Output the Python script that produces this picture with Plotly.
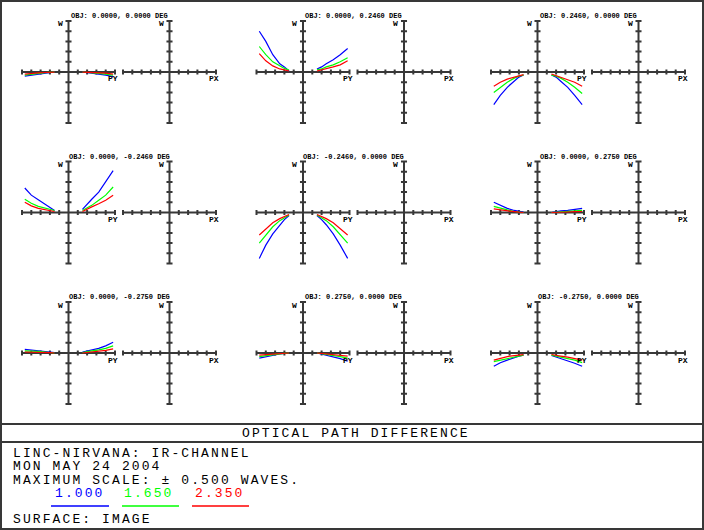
import plotly.graph_objects as go

# ---------------- data ----------------
fields = [
    "OBJ: 0.0000, 0.0000 DEG", "OBJ: 0.0000, 0.2460 DEG", "OBJ: 0.2460, 0.0000 DEG",
    "OBJ: 0.0000, -0.2460 DEG", "OBJ: -0.2460, 0.0000 DEG", "OBJ: 0.0000, 0.2750 DEG",
    "OBJ: 0.0000, -0.2750 DEG", "OBJ: 0.2750, 0.0000 DEG", "OBJ: -0.2750, 0.0000 DEG",
]
wavelengths = ["1.000", "1.650", "2.350"]
pupil_ticks = [-1.0, -0.8, -0.6, -0.4, -0.2, 0.0, 0.2, 0.4, 0.6, 0.8, 1.0]
wave_ticks = [-0.5, -0.4, -0.3, -0.2, -0.1, 0.0, 0.1, 0.2, 0.3, 0.4, 0.5]
py_left = [-0.94, -0.8, -0.65, -0.5, -0.4, -0.3]
py_right = [0.3, 0.4, 0.5, 0.65, 0.8, 0.96]

# OPD (waves) along PY, one row per field
opd_1000_left = [
    [-0.04, -0.03, -0.02, -0.01, -0.005, 0.0],
    [0.40, 0.30, 0.17, 0.08, 0.05, 0.01],
    [-0.32, -0.23, -0.15, -0.09, -0.05, -0.03],
    [0.24, 0.17, 0.125, 0.08, 0.05, 0.02],
    [-0.45, -0.32, -0.21, -0.12, -0.07, -0.03],
    [0.10, 0.07, 0.04, 0.02, 0.01, 0.005],
    [0.035, 0.03, 0.025, 0.02, 0.01, 0.005],
    [-0.05, -0.035, -0.02, -0.01, -0.005, 0.0],
    [-0.13, -0.095, -0.07, -0.045, -0.03, -0.02],
]
opd_1000_right = [
    [0.0, -0.005, -0.01, -0.02, -0.03, -0.045],
    [0.03, 0.05, 0.08, 0.12, 0.17, 0.23],
    [-0.03, -0.05, -0.09, -0.15, -0.23, -0.32],
    [0.03, 0.085, 0.13, 0.20, 0.30, 0.41],
    [-0.03, -0.07, -0.12, -0.21, -0.32, -0.45],
    [0.0, 0.01, 0.015, 0.02, 0.03, 0.04],
    [0.01, 0.02, 0.03, 0.045, 0.07, 0.105],
    [0.0, -0.01, -0.02, -0.035, -0.055, -0.08],
    [-0.025, -0.04, -0.05, -0.075, -0.10, -0.13],
]
opd_1650_left = [
    [-0.03, -0.02, -0.012, -0.006, -0.003, 0.0],
    [0.25, 0.17, 0.10, 0.06, 0.035, 0.02],
    [-0.20, -0.15, -0.10, -0.06, -0.04, -0.03],
    [0.13, 0.09, 0.06, 0.045, 0.03, 0.02],
    [-0.30, -0.22, -0.14, -0.08, -0.05, -0.025],
    [0.06, 0.04, 0.025, 0.01, 0.005, 0.0],
    [0.02, 0.02, 0.015, 0.01, 0.005, 0.0],
    [-0.035, -0.025, -0.015, -0.008, -0.004, 0.0],
    [-0.085, -0.07, -0.05, -0.04, -0.03, -0.02],
]
opd_1650_right = [
    [0.0, -0.003, -0.006, -0.012, -0.02, -0.03],
    [0.02, 0.03, 0.05, 0.07, 0.10, 0.14],
    [-0.03, -0.04, -0.06, -0.10, -0.15, -0.21],
    [0.02, 0.045, 0.07, 0.12, 0.17, 0.25],
    [-0.025, -0.05, -0.08, -0.14, -0.22, -0.30],
    [0.0, 0.005, 0.01, 0.012, 0.015, 0.02],
    [0.005, 0.01, 0.02, 0.03, 0.045, 0.07],
    [0.0, -0.006, -0.012, -0.022, -0.035, -0.05],
    [-0.02, -0.03, -0.04, -0.055, -0.07, -0.095],
]
opd_2350_left = [
    [-0.02, -0.012, -0.008, -0.005, -0.003, -0.002],
    [0.18, 0.11, 0.06, 0.03, 0.02, 0.01],
    [-0.14, -0.10, -0.07, -0.05, -0.035, -0.025],
    [0.10, 0.065, 0.04, 0.03, 0.02, 0.01],
    [-0.22, -0.16, -0.10, -0.06, -0.04, -0.02],
    [0.035, 0.025, 0.015, 0.008, 0.003, 0.0],
    [0.01, 0.01, 0.008, 0.005, 0.003, 0.0],
    [-0.02, -0.015, -0.01, -0.005, -0.002, 0.0],
    [-0.07, -0.05, -0.035, -0.025, -0.02, -0.015],
]
opd_2350_right = [
    [-0.002, -0.003, -0.005, -0.008, -0.012, -0.02],
    [0.01, 0.02, 0.03, 0.05, 0.07, 0.11],
    [-0.02, -0.035, -0.05, -0.07, -0.10, -0.14],
    [0.01, 0.035, 0.055, 0.085, 0.12, 0.17],
    [-0.02, -0.04, -0.06, -0.10, -0.16, -0.22],
    [0.0, 0.0, 0.005, 0.005, 0.008, 0.01],
    [0.0, 0.005, 0.01, 0.015, 0.025, 0.04],
    [0.0, -0.004, -0.008, -0.014, -0.022, -0.03],
    [-0.015, -0.025, -0.03, -0.04, -0.055, -0.07],
]
opd_left = [opd_1000_left, opd_1650_left, opd_2350_left]
opd_right = [opd_1000_right, opd_1650_right, opd_2350_right]

title_text = "OPTICAL PATH DIFFERENCE"
info_lines = ["LINC-NIRVANA: IR-CHANNEL", "MON MAY 24 2004", "MAXIMUM SCALE: ± 0.500 WAVES."]
surface_text = "SURFACE: IMAGE"

# ---------------- style ----------------
W, H = 704, 530
wl_colors = ["#0000ff", "#00ff00", "#ff0000"]
axis_color = "#383838"
mono = "Liberation Mono, DejaVu Sans Mono, monospace"
PAD_X = 0.08
PAD_Y = 0.04
TXT_SIZE = 13


def fx(x):
    return x / W


def fy(y):
    return 1 - y / H


def spaced(t):
    return '<span style="letter-spacing:2.1px">' + t + '</span>'


fig = go.Figure()
layout = dict(
    width=W, height=H, autosize=False,
    margin=dict(l=0, r=0, t=0, b=0),
    paper_bgcolor="white", plot_bgcolor="rgba(0,0,0,0)",
    showlegend=False,
)
annotations = []
shapes = []

for p in range(9):
    r, c = divmod(p, 3)
    X0 = 22 + 234.5 * c
    cy = 72 + 140.5 * r
    half_h = 51
    for f in range(2):
        idx = p * 2 + f + 1
        xl = X0 + 101 * f
        xr = xl + 93
        sx = (xr - xl) / 2
        sy = half_h / 0.5
        xk = "xaxis" if idx == 1 else f"xaxis{idx}"
        yk = "yaxis" if idx == 1 else f"yaxis{idx}"
        xid = "x" if idx == 1 else f"x{idx}"
        yid = "y" if idx == 1 else f"y{idx}"
        layout[xk] = dict(domain=[fx(xl - PAD_X * sx), fx(xr + PAD_X * sx)],
                          range=[-1 - PAD_X, 1 + PAD_X], visible=False,
                          anchor=yid, fixedrange=True)
        layout[yk] = dict(domain=[fy(cy + (0.5 + PAD_Y) * sy), fy(cy - (0.5 + PAD_Y) * sy)],
                          range=[-0.5 - PAD_Y, 0.5 + PAD_Y], visible=False,
                          anchor=xid, fixedrange=True)
        # axis cross with ticks
        xs = [pupil_ticks[0], pupil_ticks[-1], None, 0, 0, None]
        ys = [0, 0, None, wave_ticks[0], wave_ticks[-1], None]
        tx = 0.065
        ty = 0.024
        for t in pupil_ticks:
            if t != 0:
                xs += [t, t, None]
                ys += [-ty, ty, None]
        for t in wave_ticks:
            if t != 0:
                xs += [-tx, tx, None]
                ys += [t, t, None]
        fig.add_trace(go.Scatter(x=xs, y=ys, mode="lines", xaxis=xid, yaxis=yid,
                                 line=dict(color=axis_color, width=2), hoverinfo="skip"))
        # labels
        annotations.append(dict(text="<b>W</b>", x=fx(xl + sx - 4), y=fy(cy - half_h + 3),
                                xref="paper", yref="paper", xanchor="right", yanchor="middle",
                                showarrow=False, font=dict(family=mono, size=8, color="black")))
        annotations.append(dict(text="<b>PY</b>" if f == 0 else "<b>PX</b>", x=fx(xr - 2), y=fy(cy + 7),
                                xref="paper", yref="paper", xanchor="center", yanchor="middle",
                                showarrow=False, font=dict(family=mono, size=8, color="black")))
        if f == 0:
            for w in range(3):
                fig.add_trace(go.Scatter(
                    x=py_left + [None] + py_right,
                    y=opd_left[w][p] + [None] + opd_right[w][p],
                    mode="lines", xaxis=xid, yaxis=yid,
                    line=dict(color=wl_colors[w], width=1.2), hoverinfo="skip"))
    annotations.append(dict(text="<b>" + fields[p] + "</b>", x=fx(X0 + 97), y=fy(cy - half_h - 5),
                            xref="paper", yref="paper", xanchor="center", yanchor="middle",
                            showarrow=False, font=dict(family=mono, size=7, color="black")))

# frame and separators
line_style = dict(color=axis_color, width=2)
shapes.append(dict(type="rect", xref="paper", yref="paper", x0=fx(1), x1=fx(W - 1),
                   y0=fy(H - 1), y1=fy(1), line=line_style))
for yy in (424, 442):
    shapes.append(dict(type="line", xref="paper", yref="paper", x0=0, x1=1,
                       y0=fy(yy), y1=fy(yy), line=line_style))

text_font = dict(family=mono, size=TXT_SIZE, color="black")
annotations.append(dict(text=spaced(title_text), x=fx(240), y=fy(433), xref="paper", yref="paper",
                        xanchor="left", yanchor="middle", showarrow=False, font=text_font))
for i, t in enumerate(info_lines):
    annotations.append(dict(text=spaced(t), x=fx(11), y=fy(453 + 13.5 * i), xref="paper", yref="paper",
                            xanchor="left", yanchor="middle", showarrow=False, font=text_font))
label_left = [53, 122, 193]
underline_spans = [(51, 109), (122, 179), (192, 249)]
for w in range(3):
    annotations.append(dict(text=spaced(wavelengths[w]), x=fx(label_left[w]), y=fy(493),
                            xref="paper", yref="paper", xanchor="left", yanchor="middle",
                            showarrow=False,
                            font=dict(family=mono, size=TXT_SIZE, color=wl_colors[w])))
    a, b = underline_spans[w]
    shapes.append(dict(type="line", xref="paper", yref="paper", x0=fx(a), x1=fx(b),
                       y0=fy(506), y1=fy(506), line=dict(color=wl_colors[w], width=1.5)))
annotations.append(dict(text=spaced(surface_text), x=fx(11), y=fy(519), xref="paper", yref="paper",
                        xanchor="left", yanchor="middle", showarrow=False, font=text_font))

layout["annotations"] = annotations
layout["shapes"] = shapes
fig.update_layout(**layout)

fig.write_html("out.html", config={"displayModeBar": False},
               post_script="document.body.style.margin='0';document.body.style.overflow='hidden';")
